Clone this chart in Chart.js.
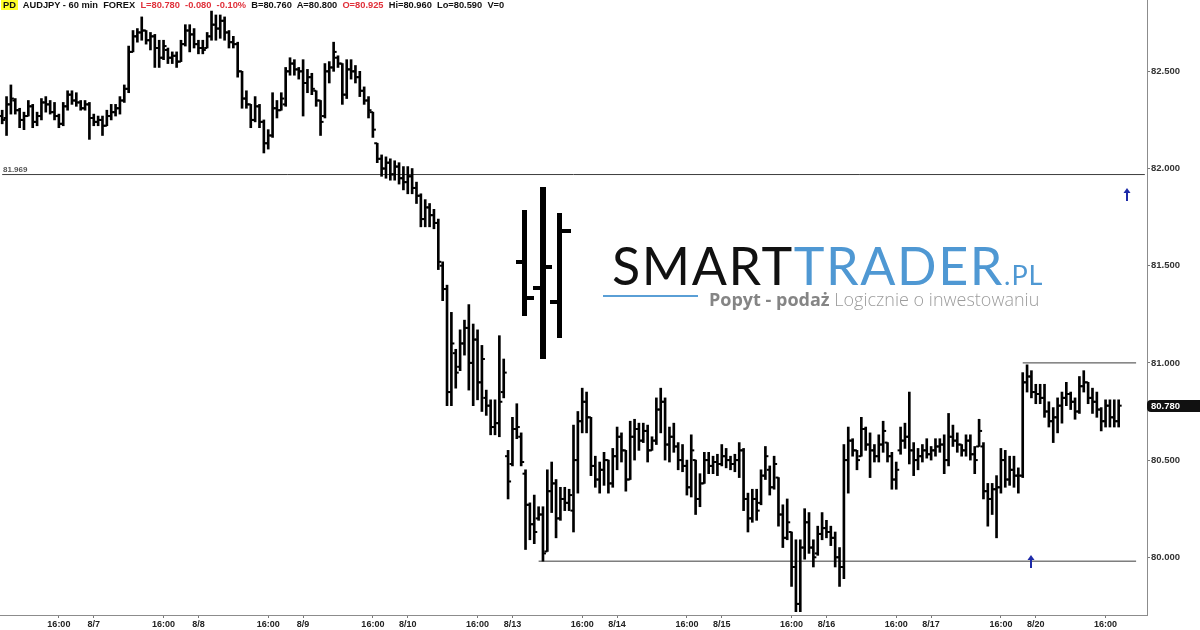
<!DOCTYPE html>
<html>
<head>
<meta charset="utf-8">
<title>AUDJPY - 60 min</title>
<script src="https://cdn.jsdelivr.net/npm/chart.js@4.4.1/dist/chart.umd.min.js"></script>
<style>
  html, body { margin:0; padding:0; background:#fff; }
  #wrap { position:relative; width:1200px; height:630px; overflow:hidden; background:#fff; }
  #c { position:absolute; left:0; top:0; }
  #hdr { position:absolute; left:1px; top:0; height:13px; line-height:13px; font:bold 9.3px "Liberation Sans", Arial, sans-serif; color:#111; white-space:pre; }
  #hdr .pd { background:#ffff2a; padding:0 2px; }
  #hdr .r { color:#e0303a; }
  .ib { position:absolute; background:#000; }
  #brand { position:absolute; left:612px; top:239px; font:400 52px Lato, "Open Sans", sans-serif; letter-spacing:1.6px; line-height:52px; color:#111; white-space:nowrap; }
  #brand .b { color:#4f98d3; }
  #brand .pl { font-size:27px; letter-spacing:1px; color:#4f98d3; }
  #rule { position:absolute; left:603px; top:295px; width:95px; height:2px; background:#5a9fd6; }
  #tag { position:absolute; left:709px; top:288px; font:300 18px "Open Sans", sans-serif; line-height:22px; color:#9c9c9c; white-space:nowrap; }
  #tag b { color:#858585; font-weight:700; }
</style>
</head>
<body>
<div id="wrap">
  <canvas id="c" width="1200" height="630"></canvas>
  <div id="hdr"><span class="pd">PD</span>  AUDJPY - 60 min  FOREX  <span class="r">L=80.780  -0.080  -0.10%</span>  B=80.760  A=80.800  <span class="r">O=80.925</span>  Hi=80.960  Lo=80.590  V=0</div>
  <div class="ib" style="left:522px;top:210px;width:5px;height:106px"></div>
  <div class="ib" style="left:516px;top:260px;width:7px;height:4px"></div>
  <div class="ib" style="left:527px;top:296px;width:7px;height:4px"></div>
  <div class="ib" style="left:540px;top:187px;width:6px;height:172px"></div>
  <div class="ib" style="left:533px;top:286px;width:7px;height:4px"></div>
  <div class="ib" style="left:546px;top:265px;width:6px;height:4px"></div>
  <div class="ib" style="left:557px;top:213px;width:5px;height:125px"></div>
  <div class="ib" style="left:562px;top:229px;width:9px;height:4px"></div>
  <div class="ib" style="left:550px;top:300px;width:7px;height:4px"></div>
  <div id="brand">SMART<span class="b">TRADER</span><span class="pl">.PL</span></div>
  <div id="rule"></div>
  <div id="tag"><b>Popyt - podaż</b>  Logicznie o inwestowaniu</div>
</div>
<script>
// ---- sessions / categories ----
const days = ['8/6','8/7','8/8','8/9','8/10','8/13','8/14','8/15','8/16','8/17','8/20'];
const firstHour = 3;     // first bar of 8/6
const lastHour = 19;     // last bar of 8/20
const emptySlots = 6;    // blank slots at the right edge

// ---- OHLC series (hourly) ----
const opens = [
  82.27,82.26,82.33,82.35,82.30,82.25,82.27,82.32,82.24,82.27,82.34,82.33,82.29,82.27,82.23,82.32,82.38,82.35,82.34,82.31,82.33,
  82.26,82.24,82.25,82.22,82.27,82.29,82.31,82.35,82.41,82.60,82.68,82.70,82.71,82.66,82.68,82.62,82.57,82.61,82.57,82.58,82.55,82.64,82.71,82.69,
  82.64,82.62,82.62,82.68,82.74,82.72,82.76,82.70,82.65,82.64,82.50,82.36,82.33,82.25,82.32,82.24,82.13,82.17,82.31,82.30,82.33,82.50,82.54,82.51,
  82.50,82.44,82.47,82.40,82.35,82.27,82.50,82.52,82.57,82.54,82.38,82.51,82.50,82.47,82.40,82.35,82.29,82.13,82.05,82.00,82.03,81.97,82.01,81.95,
  81.93,81.96,81.90,81.86,81.74,81.80,81.76,81.72,81.50,81.38,80.85,81.05,80.98,81.10,81.18,81.00,81.12,80.90,80.82,80.78,80.67,80.69,80.85,80.52,
  80.48,80.66,80.62,80.43,80.27,80.17,80.20,80.22,80.03,80.34,80.38,80.20,80.30,80.28,80.24,80.50,80.70,80.80,80.72,80.47,80.40,80.45,80.50,80.38,
  80.52,80.62,80.55,80.40,80.62,80.66,80.60,80.65,80.55,80.60,80.76,80.80,80.58,80.62,80.57,80.50,80.47,80.36,80.50,80.30,80.38,80.50,80.47,80.49,
  80.48,80.52,80.50,80.48,80.50,80.55,80.30,80.20,80.30,80.28,80.42,80.45,80.36,80.41,80.22,80.10,80.13,79.95,79.76,80.05,80.18,80.05,80.02,80.12,
  80.15,80.13,80.10,80.00,79.95,80.50,80.60,80.55,80.52,80.66,80.58,80.55,80.52,80.58,80.59,80.52,80.40,80.55,80.60,80.62,80.55,80.50,80.52,80.55,
  80.53,80.55,80.57,80.58,80.50,80.62,80.60,80.58,80.55,80.60,80.53,80.57,80.57,80.34,80.30,80.35,80.36,80.50,80.40,80.45,80.42,80.42,80.90,80.93,
  80.85,80.84,80.82,80.75,80.70,80.72,80.78,80.82,80.84,80.80,80.75,80.88,80.90,80.82,80.80,80.76,80.70,80.78,80.72,80.70
];
const highs = [
  82.30,82.37,82.43,82.36,82.31,82.29,82.35,82.33,82.29,82.36,82.37,82.35,82.34,82.28,82.34,82.40,82.40,82.39,82.35,82.35,82.34,
  82.28,82.27,82.27,82.30,82.33,82.33,82.37,82.43,82.63,82.71,82.72,82.78,82.71,82.70,82.69,82.66,82.66,82.62,82.60,82.60,82.66,82.74,82.74,82.72,
  82.66,82.66,82.70,82.81,82.79,82.79,82.78,82.71,82.68,82.65,82.50,82.40,82.33,82.37,82.33,82.25,82.20,82.39,82.35,82.39,82.52,82.57,82.56,82.52,
  82.56,82.51,82.49,82.40,82.35,82.54,82.55,82.65,82.58,82.54,82.56,82.56,82.53,82.50,82.42,82.37,82.29,82.13,82.07,82.06,82.05,82.04,82.03,82.01,
  82.01,82.00,81.93,81.87,81.84,81.82,81.79,81.74,81.52,81.40,81.26,81.07,81.17,81.22,81.30,81.20,81.17,81.09,80.86,80.81,80.81,81.14,81.02,80.55,
  80.72,80.79,80.64,80.45,80.28,80.32,80.26,80.26,80.45,80.49,80.40,80.36,80.36,80.35,80.68,80.75,80.87,80.85,80.72,80.52,80.49,80.54,80.50,80.56,
  80.67,80.64,80.55,80.70,80.71,80.69,80.69,80.68,80.62,80.82,80.87,80.82,80.67,80.69,80.59,80.58,80.50,80.63,80.50,80.43,80.54,80.54,80.52,80.53,
  80.58,80.56,80.52,80.53,80.59,80.56,80.33,80.35,80.35,80.45,80.57,80.47,80.52,80.41,80.27,80.30,80.13,80.09,80.09,80.25,80.23,80.09,80.16,80.23,
  80.19,80.16,80.13,80.05,80.58,80.67,80.61,80.55,80.72,80.67,80.64,80.58,80.63,80.70,80.59,80.54,80.49,80.67,80.69,80.85,80.59,80.56,80.58,80.61,
  80.57,80.61,80.61,80.63,80.74,80.68,80.64,80.58,80.63,80.63,80.57,80.71,80.59,80.38,80.38,80.42,80.56,80.55,80.52,80.52,80.46,80.95,80.99,80.96,
  80.89,80.89,80.89,80.80,80.77,80.82,80.85,80.90,80.85,80.82,80.93,80.96,80.90,80.87,80.85,80.77,80.81,80.81,80.81,80.81
];
const lows = [
  82.23,82.17,82.28,82.28,82.21,82.20,82.27,82.21,82.22,82.25,82.29,82.28,82.25,82.21,82.22,82.30,82.33,82.32,82.30,82.30,82.15,
  82.22,82.22,82.17,82.22,82.25,82.27,82.28,82.34,82.39,82.60,82.65,82.66,82.64,82.61,82.52,82.52,82.56,82.54,82.54,82.52,82.55,82.63,82.60,82.62,
  82.59,82.59,82.62,82.66,82.66,82.67,82.66,82.62,82.62,82.47,82.31,82.31,82.21,82.24,82.21,82.08,82.10,82.16,82.26,82.30,82.32,82.48,82.48,82.46,
  82.27,82.39,82.38,82.32,82.17,82.26,82.44,82.50,82.52,82.33,82.36,82.46,82.44,82.37,82.33,82.26,82.16,82.03,81.96,81.95,81.94,81.94,81.92,81.89,
  81.87,81.87,81.82,81.70,81.70,81.70,81.69,81.48,81.32,80.78,80.78,80.87,80.96,81.04,80.86,80.78,80.81,80.75,80.73,80.63,80.63,80.62,80.82,80.30,
  80.47,80.61,80.47,80.04,80.09,80.07,80.19,79.98,80.03,80.23,80.10,80.19,80.24,80.24,80.13,80.33,80.64,80.64,80.42,80.36,80.33,80.37,80.33,80.36,
  80.45,80.49,80.34,80.40,80.50,80.55,80.59,80.49,80.55,80.58,80.64,80.50,80.49,80.54,80.45,80.44,80.32,80.31,80.22,80.26,80.38,80.43,80.43,80.42,
  80.47,80.46,80.45,80.44,80.41,80.24,80.13,80.18,80.19,80.27,80.40,80.32,80.35,80.16,80.05,80.09,79.85,79.72,79.72,79.99,80.02,79.95,80.01,80.09,
  80.10,80.06,79.95,79.85,79.89,80.33,80.52,80.45,80.52,80.55,80.41,80.49,80.49,80.54,80.49,80.35,80.35,80.53,80.56,80.48,80.42,80.45,80.49,80.51,
  80.50,80.52,80.54,80.43,80.47,80.57,80.54,80.52,80.52,80.50,80.43,80.57,80.30,80.16,80.22,80.10,80.33,80.36,80.37,80.36,80.33,80.41,80.85,80.82,
  80.79,80.79,80.72,80.67,80.59,80.64,80.69,80.78,80.76,80.71,80.74,80.85,80.79,80.74,80.72,80.65,80.67,80.67,80.67,80.67
];
const closes = [
  82.25,82.33,82.36,82.30,82.25,82.27,82.32,82.24,82.27,82.34,82.33,82.29,82.27,82.23,82.32,82.38,82.35,82.34,82.31,82.33,82.26,
  82.24,82.25,82.22,82.27,82.29,82.31,82.35,82.41,82.60,82.68,82.70,82.71,82.66,82.68,82.62,82.57,82.63,82.57,82.58,82.55,82.64,82.71,82.69,82.64,
  82.62,82.61,82.68,82.74,82.72,82.76,82.70,82.65,82.64,82.50,82.36,82.33,82.25,82.32,82.24,82.13,82.17,82.31,82.30,82.36,82.50,82.54,82.51,82.50,
  82.44,82.47,82.41,82.35,82.24,82.50,82.52,82.60,82.54,82.38,82.51,82.50,82.47,82.40,82.35,82.30,82.20,82.05,82.00,82.03,81.97,82.01,81.95,81.93,
  81.96,81.90,81.86,81.74,81.80,81.76,81.72,81.52,81.38,80.85,81.10,80.95,81.10,81.18,81.00,81.12,80.90,81.02,80.78,80.67,80.69,80.80,80.95,80.39,
  80.66,80.67,80.49,80.27,80.17,80.13,80.22,80.02,80.34,80.38,80.20,80.30,80.28,80.32,80.50,80.70,80.80,80.72,80.47,80.40,80.45,80.50,80.38,80.52,
  80.62,80.55,80.40,80.62,80.66,80.60,80.65,80.55,80.60,80.76,80.80,80.58,80.62,80.57,80.50,80.47,80.36,80.55,80.30,80.38,80.50,80.47,80.49,80.48,
  80.52,80.50,80.48,80.50,80.55,80.30,80.20,80.30,80.24,80.42,80.52,80.36,80.48,80.22,80.10,80.18,79.95,79.76,80.05,80.18,80.05,80.00,80.12,80.15,
  80.13,80.10,80.00,79.95,80.50,80.60,80.55,80.50,80.66,80.58,80.55,80.52,80.58,80.65,80.52,80.40,80.45,80.60,80.62,80.55,80.50,80.52,80.55,80.53,
  80.55,80.57,80.58,80.50,80.62,80.60,80.58,80.55,80.60,80.53,80.50,80.65,80.34,80.30,80.35,80.36,80.50,80.40,80.45,80.42,80.42,80.90,80.93,80.85,
  80.84,80.82,80.75,80.70,80.72,80.78,80.82,80.84,80.80,80.75,80.88,80.90,80.82,80.80,80.76,80.70,80.78,80.72,80.70,80.78
];

// ---- price axis ----
const yTicks = [80.0, 80.5, 81.0, 81.5, 82.0, 82.5];
const yMin = 79.703;
const yMax = 82.867;

// ---- drawn levels (price, from-bar, to-bar) ----
const levelValues = [81.969, 81.00, 79.98];
const levelFrom = [0, 234, 123];
const levelTo = [262, 260, 260];

// ---- signal arrows (bar, price at tip) ----
const arrowAt = [258, 236];
const arrowPrice = [81.90, 80.01];

// build category labels from the sessions
const categories = [];
days.forEach((d, k) => {
  const h0 = k === 0 ? firstHour : 0;
  const h1 = k === days.length - 1 ? lastHour : 23;
  for (let h = h0; h <= h1; h++) categories.push(h === 0 ? d : (h === 16 ? '16:00' : ''));
});
for (let k = 0; k < emptySlots; k++) categories.push('');

const FONT = '"Liberation Sans", Arial, sans-serif';
const NARROW = '"Liberation Sans Narrow", "Liberation Sans", Arial, sans-serif';

const levelSets = levelValues.map((v, k) => ({
  type: 'line',
  data: categories.map((_, i) => (i === levelFrom[k] || i === levelTo[k]) ? v : null),
  spanGaps: true,
  borderColor: '#3c3c3c',
  borderWidth: 1,
  pointRadius: 0,
  pointHoverRadius: 0,
  order: 6
}));

const extras = {
  id: 'extras',
  afterDraw(chart) {
    const { ctx, chartArea: a, scales: { x, y } } = chart;
    ctx.save();
    // level label
    ctx.font = 'bold 8px ' + FONT;
    ctx.fillStyle = '#555';
    ctx.textBaseline = 'bottom';
    ctx.textAlign = 'left';
    ctx.fillText(levelValues[0].toFixed(3), 3, Math.round(y.getPixelForValue(levelValues[0])) - 1);
    // arrows
    ctx.fillStyle = '#1d2aa8';
    arrowAt.forEach((idx, k) => {
      const ax = Math.round(x.getPixelForValue(idx));
      const ay = Math.round(y.getPixelForValue(arrowPrice[k]));
      ctx.beginPath();
      ctx.moveTo(ax, ay);
      ctx.lineTo(ax - 3.5, ay + 5);
      ctx.lineTo(ax + 3.5, ay + 5);
      ctx.closePath();
      ctx.fill();
      ctx.fillRect(ax - 1, ay + 4, 2, 9);
    });
    // last price box
    const last = closes[closes.length - 1];
    const py = Math.round(y.getPixelForValue(last));
    ctx.fillStyle = '#111';
    ctx.beginPath();
    if (ctx.roundRect) ctx.roundRect(a.right, py - 6, chart.width - a.right, 12, [4, 0, 0, 4]);
    else ctx.rect(a.right, py - 6, chart.width - a.right, 12);
    ctx.fill();
    ctx.fillStyle = '#fff';
    ctx.font = 'bold 9.5px ' + FONT;
    ctx.textBaseline = 'middle';
    ctx.fillText(last.toFixed(3), a.right + 4, py + 0.5);
    ctx.restore();
  }
};

const tickPoint = {
  type: 'line',
  showLine: false,
  pointStyle: 'dash',
  pointRadius: 3,
  pointHoverRadius: 3,
  pointBorderWidth: 2,
  pointBorderColor: '#000',
  pointBackgroundColor: '#000'
};

new Chart(document.getElementById('c'), {
  type: 'bar',
  data: {
    labels: categories,
    datasets: [
      {
        type: 'bar',
        data: categories.map((_, i) => i < highs.length ? [lows[i], highs[i]] : null),
        backgroundColor: '#000',
        borderWidth: 0,
        barThickness: 2,
        grouped: false,
        order: 3
      },
      Object.assign({}, tickPoint, { data: opens, pointRotation: 180, order: 2 }),
      Object.assign({}, tickPoint, { data: closes, pointRotation: 0, order: 1 }),
      ...levelSets
    ]
  },
  options: {
    responsive: false,
    animation: false,
    devicePixelRatio: 1,
    events: [],
    layout: { padding: 0, autoPadding: false },
    plugins: { legend: { display: false }, tooltip: { enabled: false } },
    scales: {
      x: {
        type: 'category',
        offset: true,
        grid: {
          display: true, offset: false, drawOnChartArea: false, drawTicks: true, tickLength: 3,
          color: 'rgba(0,0,0,0)',
          tickColor: c => (c.tick && c.tick.label) ? '#777' : 'rgba(0,0,0,0)'
        },
        border: { display: true, color: '#8c8c8c', width: 1 },
        ticks: {
          autoSkip: false, maxRotation: 0, minRotation: 0, padding: 1,
          color: '#222', font: { family: NARROW, size: 9, weight: 'bold' }
        },
        afterFit(s) { s.height = 15; s.paddingLeft = 0; s.paddingRight = 0; }
      },
      y: {
        type: 'linear',
        position: 'right',
        min: yMin,
        max: yMax,
        afterBuildTicks(s) { s.ticks = yTicks.map(v => ({ value: v })); },
        grid: { drawOnChartArea: false, drawTicks: true, tickLength: 3, tickColor: '#777', color: 'rgba(0,0,0,0)' },
        border: { display: true, color: '#8c8c8c', width: 1 },
        ticks: {
          padding: 1, color: '#333', font: { family: FONT, size: 9.5, weight: 'bold' },
          callback: v => Number(v).toFixed(3)
        },
        afterFit(s) { s.width = 53; s.paddingTop = 0; s.paddingBottom = 0; }
      }
    }
  },
  plugins: [extras]
});
</script>
</body>
</html>
